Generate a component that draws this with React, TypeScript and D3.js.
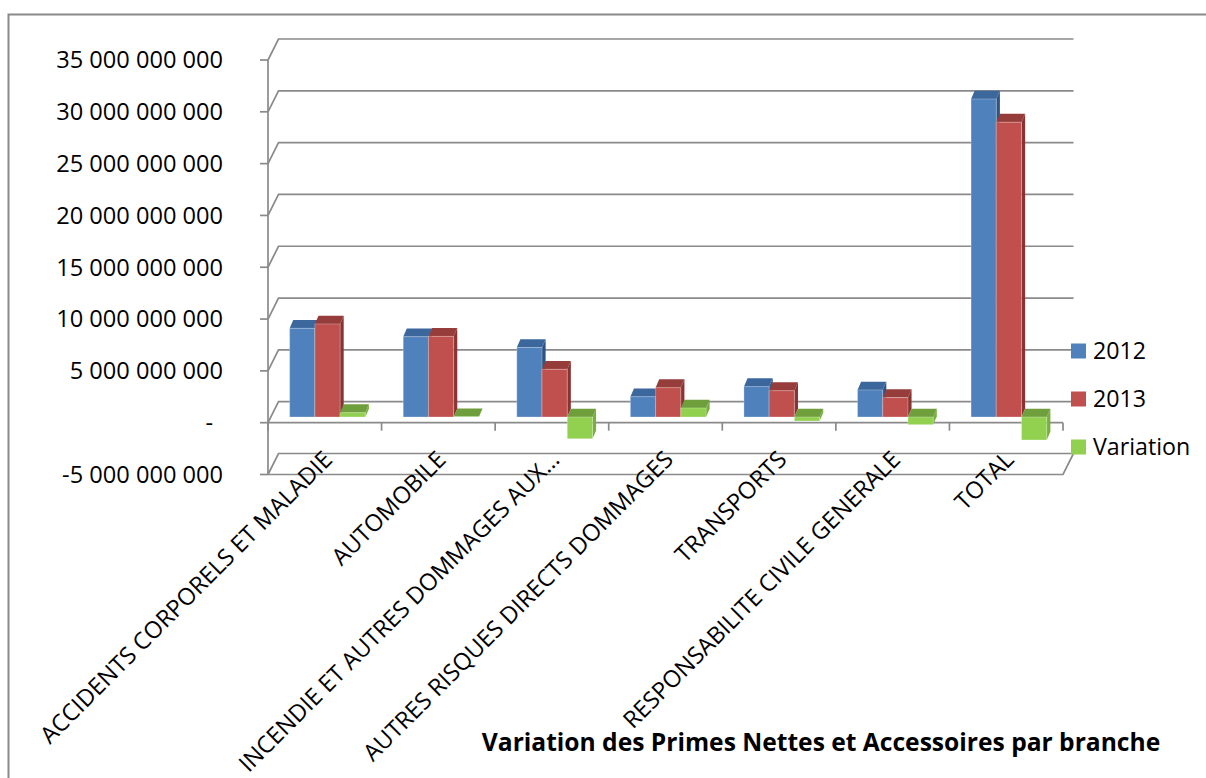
import React from "react";
import * as d3 from "d3";

const categories = [
  "ACCIDENTS CORPORELS ET MALADIE",
  "AUTOMOBILE",
  "INCENDIE ET AUTRES DOMMAGES AUX…",
  "AUTRES RISQUES DIRECTS DOMMAGES",
  "TRANSPORTS",
  "RESPONSABILITE CIVILE GENERALE",
  "TOTAL",
];
const values2012 = [8.56e9, 7.75e9, 6.7e9, 1.96e9, 2.93e9, 2.61e9, 30.69e9];
const values2013 = [8.98e9, 7.78e9, 4.6e9, 2.83e9, 2.54e9, 1.87e9, 28.45e9];
const variation = [0.42e9, 0.03e9, -2.1e9, 0.87e9, -0.39e9, -0.74e9, -2.22e9];
const seriesNames = ["2012", "2013", "Variation"];
const yTicks = [-5e9, 0, 5e9, 10e9, 15e9, 20e9, 25e9, 30e9, 35e9];
const title = "Variation des Primes Nettes et Accessoires par branche";

const seriesValues = [values2012, values2013, variation];
const faceColors = [
  { front: "#4F81BD", top: "#3B679C", side: "#2F5483" },
  { front: "#C0504D", top: "#963C3A", side: "#8A3432" },
  { front: "#92D050", top: "#6E9F3C", side: "#79AE40" },
];

const FONT = "'Open Sans', 'Liberation Sans', sans-serif";
const GRID = "#8A8A8A";

const fmt = (v: number) => {
  if (v === 0) return "-";
  const s = d3.format(",")(Math.abs(v)).replace(/,/g, " ");
  return (v < 0 ? "-" : "") + s;
};

export default function App() {
  const W = 1206;
  const H = 778;
  const x0 = 268;
  const x1 = 1063;
  const wallDx = 10.5;
  const wallDy = -21;
  const barOffDx = 2.7;
  const barOffDy = -5.7;
  const barDx = 3.6;
  const barDy = -8.3;

  const x = d3.scaleBand<string>().domain(categories).range([x0, x1]).paddingInner(0).paddingOuter(0);
  const xs = d3.scaleBand<string>().domain(seriesNames).range([0, x.bandwidth()]).paddingInner(0).paddingOuter(0.75);
  const yAxis = d3.scaleLinear().domain([-5e9, 35e9]).range([474.5, 60]);
  const yBar = (v: number) => yAxis(v) + barOffDy;

  const bars: JSX.Element[] = [];
  categories.forEach((c, ci) => {
    seriesNames.forEach((s, si) => {
      const v = seriesValues[si][ci];
      const bx = (x(c) as number) + (xs(s) as number) + barOffDx;
      const bw = xs.bandwidth();
      const yz = yBar(0);
      const yv = yBar(v);
      const yTop = Math.min(yz, yv);
      const yBot = Math.max(yz, yv);
      const col = faceColors[si];
      const front = `M${bx},${yTop}H${bx + bw}V${yBot}H${bx}Z`;
      const top = `M${bx},${yTop}L${bx + barDx},${yTop + barDy}H${bx + bw + barDx}L${bx + bw},${yTop}Z`;
      const side = `M${bx + bw},${yTop}L${bx + bw + barDx},${yTop + barDy}V${yBot + barDy}L${bx + bw},${yBot}Z`;
      bars.push(
        <g key={`${ci}-${si}`}>
          <path d={side} fill={col.side} />
          <path d={top} fill={col.top} />
          <path d={front} fill={col.front} stroke="rgba(255,255,255,0.35)" strokeWidth={0.8} />
        </g>
      );
    });
  });

  const boundaries = categories.map((c) => x(c) as number).concat([x1]);

  return (
    <svg width={W} height={H} style={{ position: "absolute", left: 0, top: 0, background: "#fff" }} fontFamily={FONT}>
      <rect x={8.5} y={14.5} width={W + 20} height={H + 20} fill="#fff" stroke="#8A8A8A" strokeWidth={2} />
      {/* walls gridlines */}
      {yTicks.map((t) => {
        const y = yAxis(t);
        return (
          <path key={`g${t}`} d={`M${x0},${y}L${x0 + wallDx},${y + wallDy}H${x1 + wallDx}`} fill="none" stroke={GRID} strokeWidth={1.7} />
        );
      })}
      {/* floor at minimum */}
      <path d={`M${x0},${yAxis(-5e9)}H${x1}L${x1 + wallDx},${yAxis(-5e9) + wallDy}`} fill="none" stroke={GRID} strokeWidth={1.7} />
      {/* value axis */}
      <path d={`M${x0},${yAxis(35e9)}V${yAxis(-5e9)}`} stroke={GRID} strokeWidth={1.7} />
      {yTicks.map((t) => (
        <path key={`t${t}`} d={`M${x0 - 8},${yAxis(t)}H${x0}`} stroke={GRID} strokeWidth={1.7} />
      ))}
      {yTicks.map((t) => (
        <text key={`l${t}`} x={t === 0 ? 213 : 223} y={yAxis(t)} dy="0.35em" textAnchor="end" fontSize={23.6} fill="#000">
          {fmt(t)}
        </text>
      ))}
      {/* category axis at zero */}
      <path d={`M${x0},${yAxis(0)}H${x1}`} stroke={GRID} strokeWidth={1.7} />
      {boundaries.map((bx, i) => (
        <path key={`b${i}`} d={`M${bx},${yAxis(0)}V${yAxis(0) + 8}`} stroke={GRID} strokeWidth={1.7} />
      ))}
      {bars}
      {/* category labels */}
      {categories.map((c) => {
        const cx = (x(c) as number) + x.bandwidth() / 2 + 9;
        const cy = 461;
        return (
          <text key={c} x={cx} y={cy} textAnchor="end" fontSize={23.5} transform={`rotate(-45 ${cx} ${cy})`} fill="#000">
            {c}
          </text>
        );
      })}
      {/* legend */}
      {seriesNames.map((s, i) => {
        const cy = 351 + i * 48;
        return (
          <g key={s}>
            <rect x={1071} y={cy - 7.5} width={15} height={15} fill={faceColors[i].front} />
            <text x={1093} y={cy} dy="0.35em" fontSize={23.2} fill="#000">
              {s}
            </text>
          </g>
        );
      })}
      <text x={821} y={742} dy="0.35em" textAnchor="middle" fontSize={24.6} fontWeight="bold" fill="#000">
        {title}
      </text>
    </svg>
  );
}
